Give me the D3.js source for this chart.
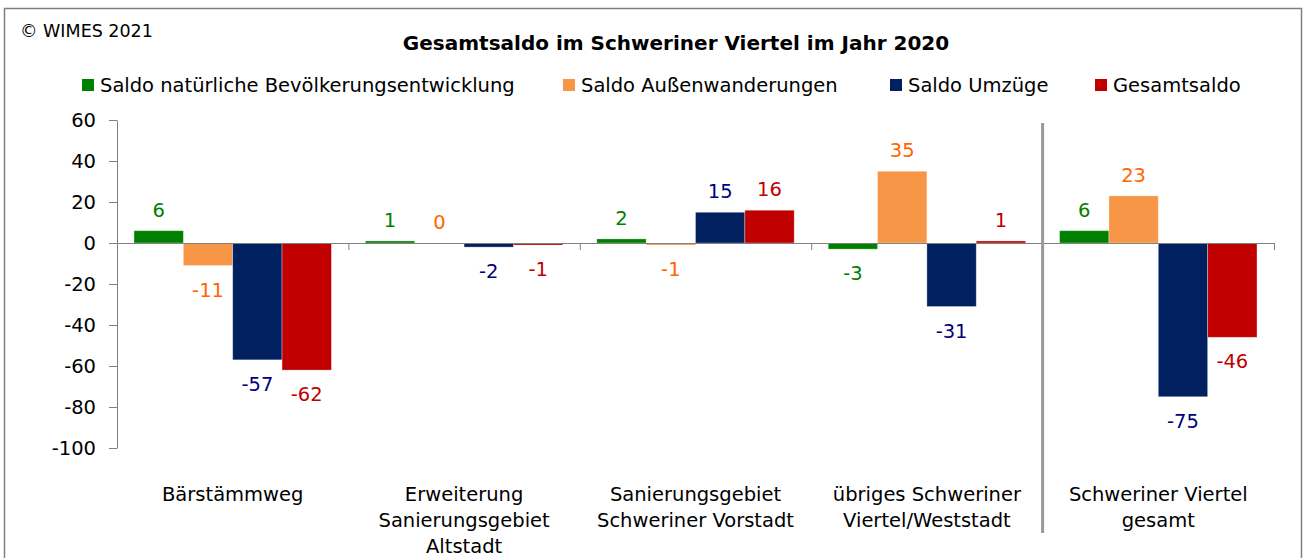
<!DOCTYPE html>
<html>
<head>
<meta charset="utf-8">
<script src="https://cdn.jsdelivr.net/npm/d3@7"></script>
<style>
  body { margin: 0; background: #fff; }
  text { font-family: "DejaVu Sans", sans-serif; }
</style>
</head>
<body>
<div id="root"></div>
<script>
const categories = [
  ["Bärstämmweg"],
  ["Erweiterung", "Sanierungsgebiet", "Altstadt"],
  ["Sanierungsgebiet", "Schweriner Vorstadt"],
  ["übriges Schweriner", "Viertel/Weststadt"],
  ["Schweriner Viertel", "gesamt"]
];
const seriesNames = ["Saldo natürliche Bevölkerungsentwicklung", "Saldo Außenwanderungen", "Saldo Umzüge", "Gesamtsaldo"];
const natuerlich = [6, 1, 2, -3, 6];
const aussen = [-11, 0, -1, 35, 23];
const umzuege = [-57, -2, 15, -31, -75];
const gesamt = [-62, -1, 16, 1, -46];
const yTicks = [60, 40, 20, 0, -20, -40, -60, -80, -100];

const barColors = ["#008000", "#F79646", "#002060", "#C00000"];
const labelColors = ["#008000", "#FF6600", "#000080", "#C00000"];
const seriesValues = [natuerlich, aussen, umzuege, gesamt];

const width = 1305, height = 558;
const plotLeft = 117, plotRight = 1274, plotTop = 120, plotBottom = 448;
const fontSize = 19.5;

const svg = d3.select("#root").append("svg")
  .attr("width", width)
  .attr("height", height);

// frame
svg.append("rect")
  .attr("x", 4.5).attr("y", 8.5)
  .attr("width", 1297).attr("height", 560)
  .attr("fill", "none")
  .attr("stroke", "#7f7f7f")
  .attr("stroke-width", 1.5);

svg.append("text")
  .attr("x", 20).attr("y", 37)
  .attr("font-size", 17.5)
  .attr("fill", "#000")
  .text("© WIMES 2021");

svg.append("text")
  .attr("x", 676).attr("y", 50)
  .attr("text-anchor", "middle")
  .attr("font-size", 20)
  .attr("font-weight", "bold")
  .text("Gesamtsaldo im Schweriner Viertel im Jahr 2020");

// legend
const legendX = [82, 563, 890, 1095];
const legend = svg.append("g");
seriesNames.forEach((name, i) => {
  legend.append("rect")
    .attr("x", legendX[i]).attr("y", 79)
    .attr("width", 12).attr("height", 12)
    .attr("fill", barColors[i]);
  legend.append("text")
    .attr("x", legendX[i] + 18).attr("y", 92)
    .attr("font-size", fontSize)
    .text(name);
});

const x = d3.scaleBand()
  .domain(d3.range(categories.length))
  .range([plotLeft, plotRight]);

const xInner = d3.scaleBand()
  .domain(d3.range(seriesNames.length))
  .range([17, x.bandwidth() - 17]);

const y = d3.scaleLinear()
  .domain([-100, 60])
  .range([plotBottom, plotTop]);

// bars
seriesValues.forEach((vals, s) => {
  svg.append("g").selectAll("rect")
    .data(vals)
    .join("rect")
    .attr("x", (d, i) => x(i) + xInner(s))
    .attr("y", d => y(Math.max(0, d)))
    .attr("width", xInner.bandwidth())
    .attr("height", d => Math.abs(y(d) - y(0)))
    .attr("fill", barColors[s])
    .attr("stroke", "rgba(255,255,255,0.4)")
    .attr("stroke-width", 0.8);

  svg.append("g").selectAll("text")
    .data(vals)
    .join("text")
    .attr("x", (d, i) => x(i) + xInner(s) + xInner.bandwidth() / 2)
    .attr("y", d => d >= 0 ? y(d) - 14 : y(d) + 31)
    .attr("text-anchor", "middle")
    .attr("font-size", fontSize)
    .attr("fill", labelColors[s])
    .text(d => String(d));
});

// y axis
const yAxis = svg.append("g")
  .attr("transform", `translate(${plotLeft},0)`)
  .call(d3.axisLeft(y).tickValues(yTicks).tickSize(8).tickSizeOuter(0).tickPadding(13)
    .tickFormat(d => String(d)));
yAxis.selectAll("path, line").attr("stroke", "#808080");
yAxis.selectAll("text").attr("font-size", fontSize).attr("fill", "#000")
  .style("font-family", '"DejaVu Sans", sans-serif');

// x axis at zero
const xb = d3.scaleLinear().domain([0, categories.length]).range([plotLeft, plotRight]);
const xAxis = svg.append("g")
  .attr("transform", `translate(0,${y(0)})`)
  .call(d3.axisBottom(xb).tickValues(d3.range(categories.length + 1)).tickSize(7).tickSizeOuter(0).tickFormat(""));
xAxis.selectAll("path, line").attr("stroke", "#808080");

// separator before total
svg.append("line")
  .attr("x1", x(4)).attr("x2", x(4))
  .attr("y1", 123).attr("y2", 533)
  .attr("stroke", "#999")
  .attr("stroke-width", 3);

// category labels
categories.forEach((lines, i) => {
  const t = svg.append("text")
    .attr("x", x(i) + x.bandwidth() / 2)
    .attr("y", 501)
    .attr("text-anchor", "middle")
    .attr("font-size", fontSize);
  lines.forEach((l, j) => {
    t.append("tspan")
      .attr("x", x(i) + x.bandwidth() / 2)
      .attr("dy", j === 0 ? 0 : 26)
      .text(l);
  });
});
</script>
</body>
</html>
